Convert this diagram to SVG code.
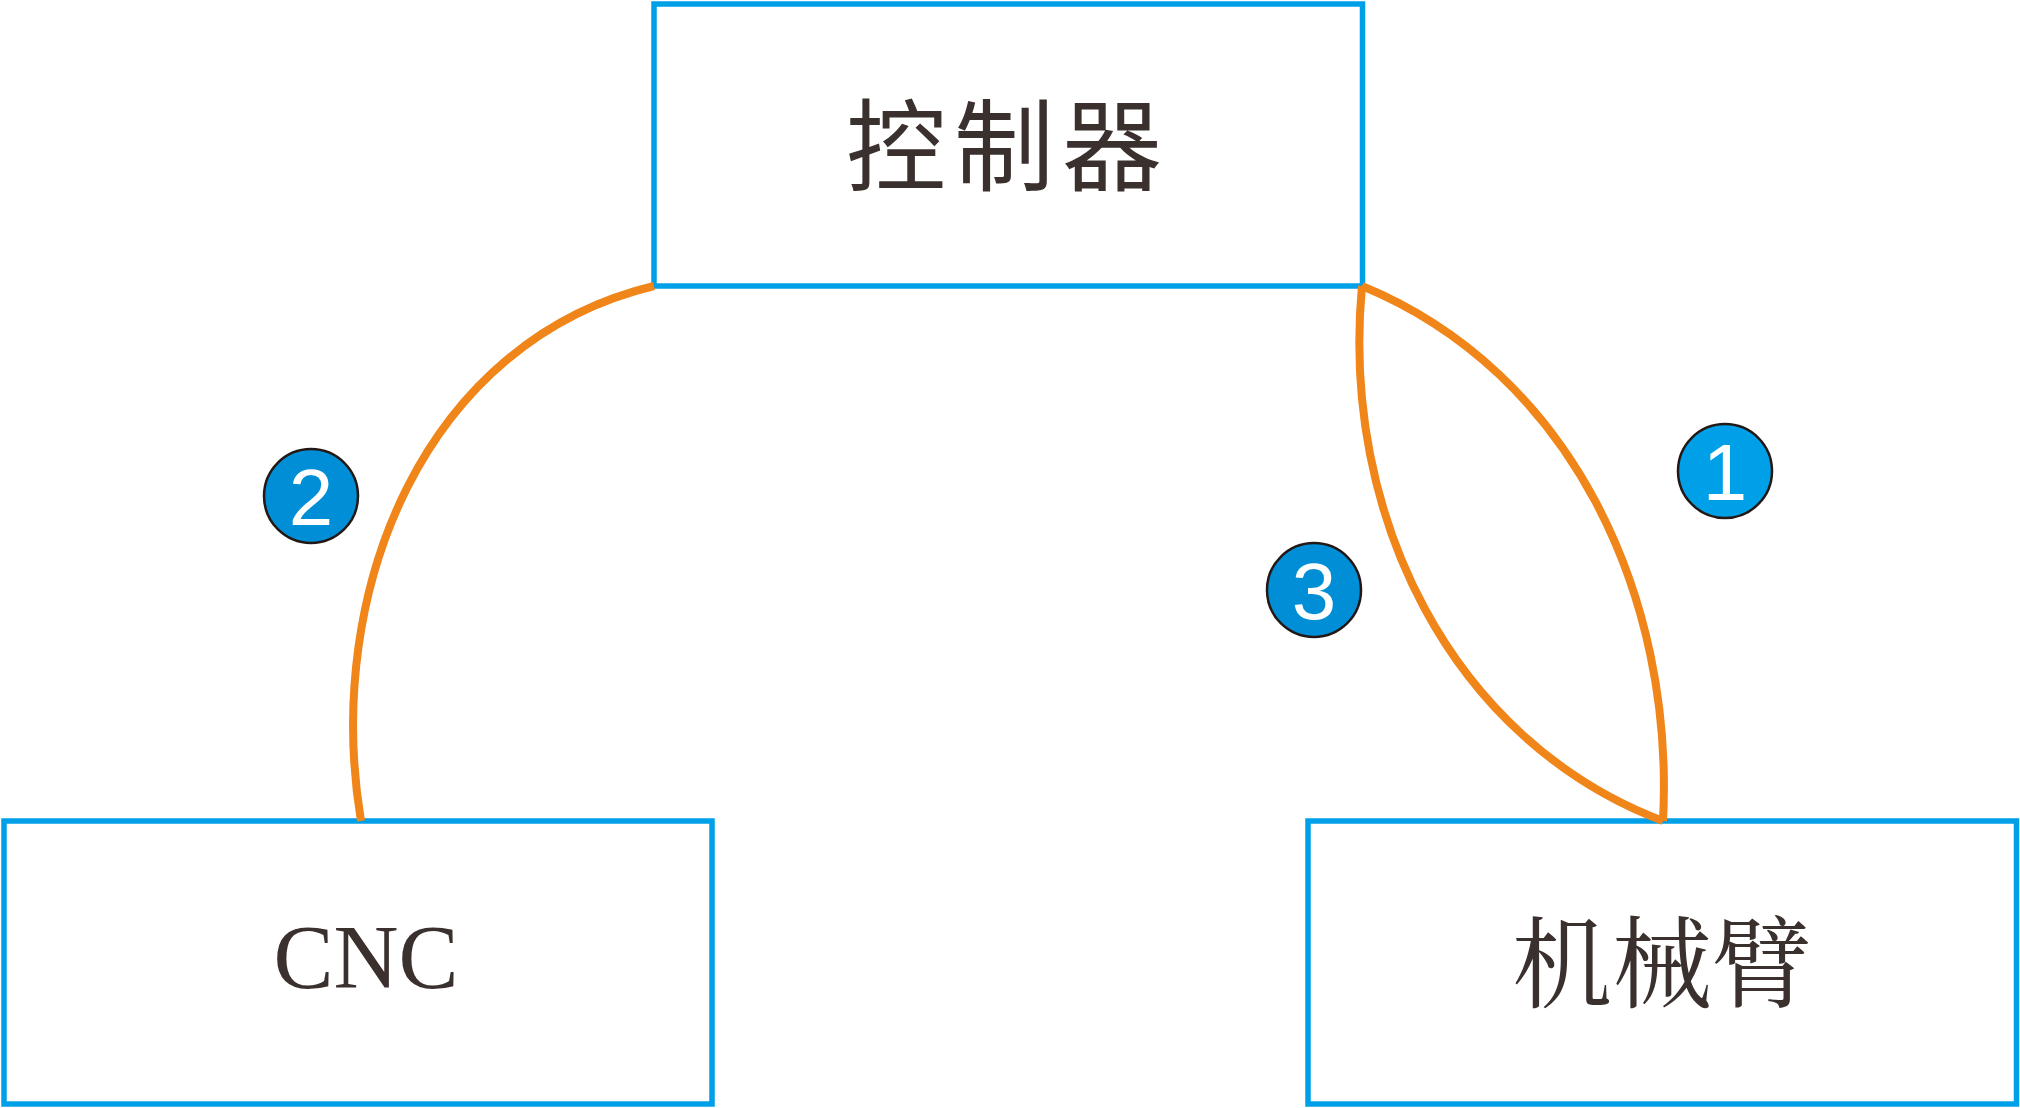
<svg xmlns="http://www.w3.org/2000/svg" width="2020" height="1108" viewBox="0 0 2020 1108">
<style>
.box{fill:#ffffff;stroke:#00a0e9;stroke-width:5.5}
.conn{fill:none;stroke:#f08519;stroke-width:8;stroke-linecap:butt}
.badge{stroke:#231815;stroke-width:2.5}
.num{font-family:"Liberation Sans",Arial,sans-serif;font-size:80px;fill:#ffffff;text-anchor:middle}
.cjk{font-family:"Noto Sans CJK SC",sans-serif;fill:#3a302e;text-anchor:middle}
.ser{font-family:"Liberation Serif","Noto Serif CJK SC","Noto Sans CJK SC",serif;fill:#3a302e;text-anchor:middle}
</style>
<rect width="2020" height="1108" fill="#ffffff"/>
<g id="controller">
<rect class="box" x="654" y="4" width="708.5" height="282"/>
<text class="cjk" x="1008" y="183" font-size="100" letter-spacing="8">控制器</text>
</g>
<g id="cnc">
<rect class="box" x="4" y="821" width="708" height="283"/>
<text class="ser" x="366" y="988" font-size="90">CNC</text>
</g>
<g id="arm">
<rect class="box" x="1308" y="821" width="708.5" height="283"/>
<text class="ser" x="1662" y="1000" font-size="100">机械臂</text>
</g>
<g id="connectors">
<path class="conn" d="M654,286 C425.6,340.8 322.5,589.3 361,821"/>
<path class="conn" d="M1362,286 C1570.8,372 1674.8,595.6 1663,821"/>
<path class="conn" d="M1362,286 C1340.5,513 1449.8,740 1663,821"/>
</g>
<g id="badge1">
<circle class="badge" cx="1725" cy="471" r="47" fill="#00a0e9"/>
<text class="num" x="1725" y="500">1</text>
</g>
<g id="badge2">
<circle class="badge" cx="311" cy="496" r="47" fill="#008fd7"/>
<text class="num" x="311" y="525">2</text>
</g>
<g id="badge3">
<circle class="badge" cx="1314" cy="590" r="47" fill="#008fd7"/>
<text class="num" x="1314" y="619">3</text>
</g>
</svg>
